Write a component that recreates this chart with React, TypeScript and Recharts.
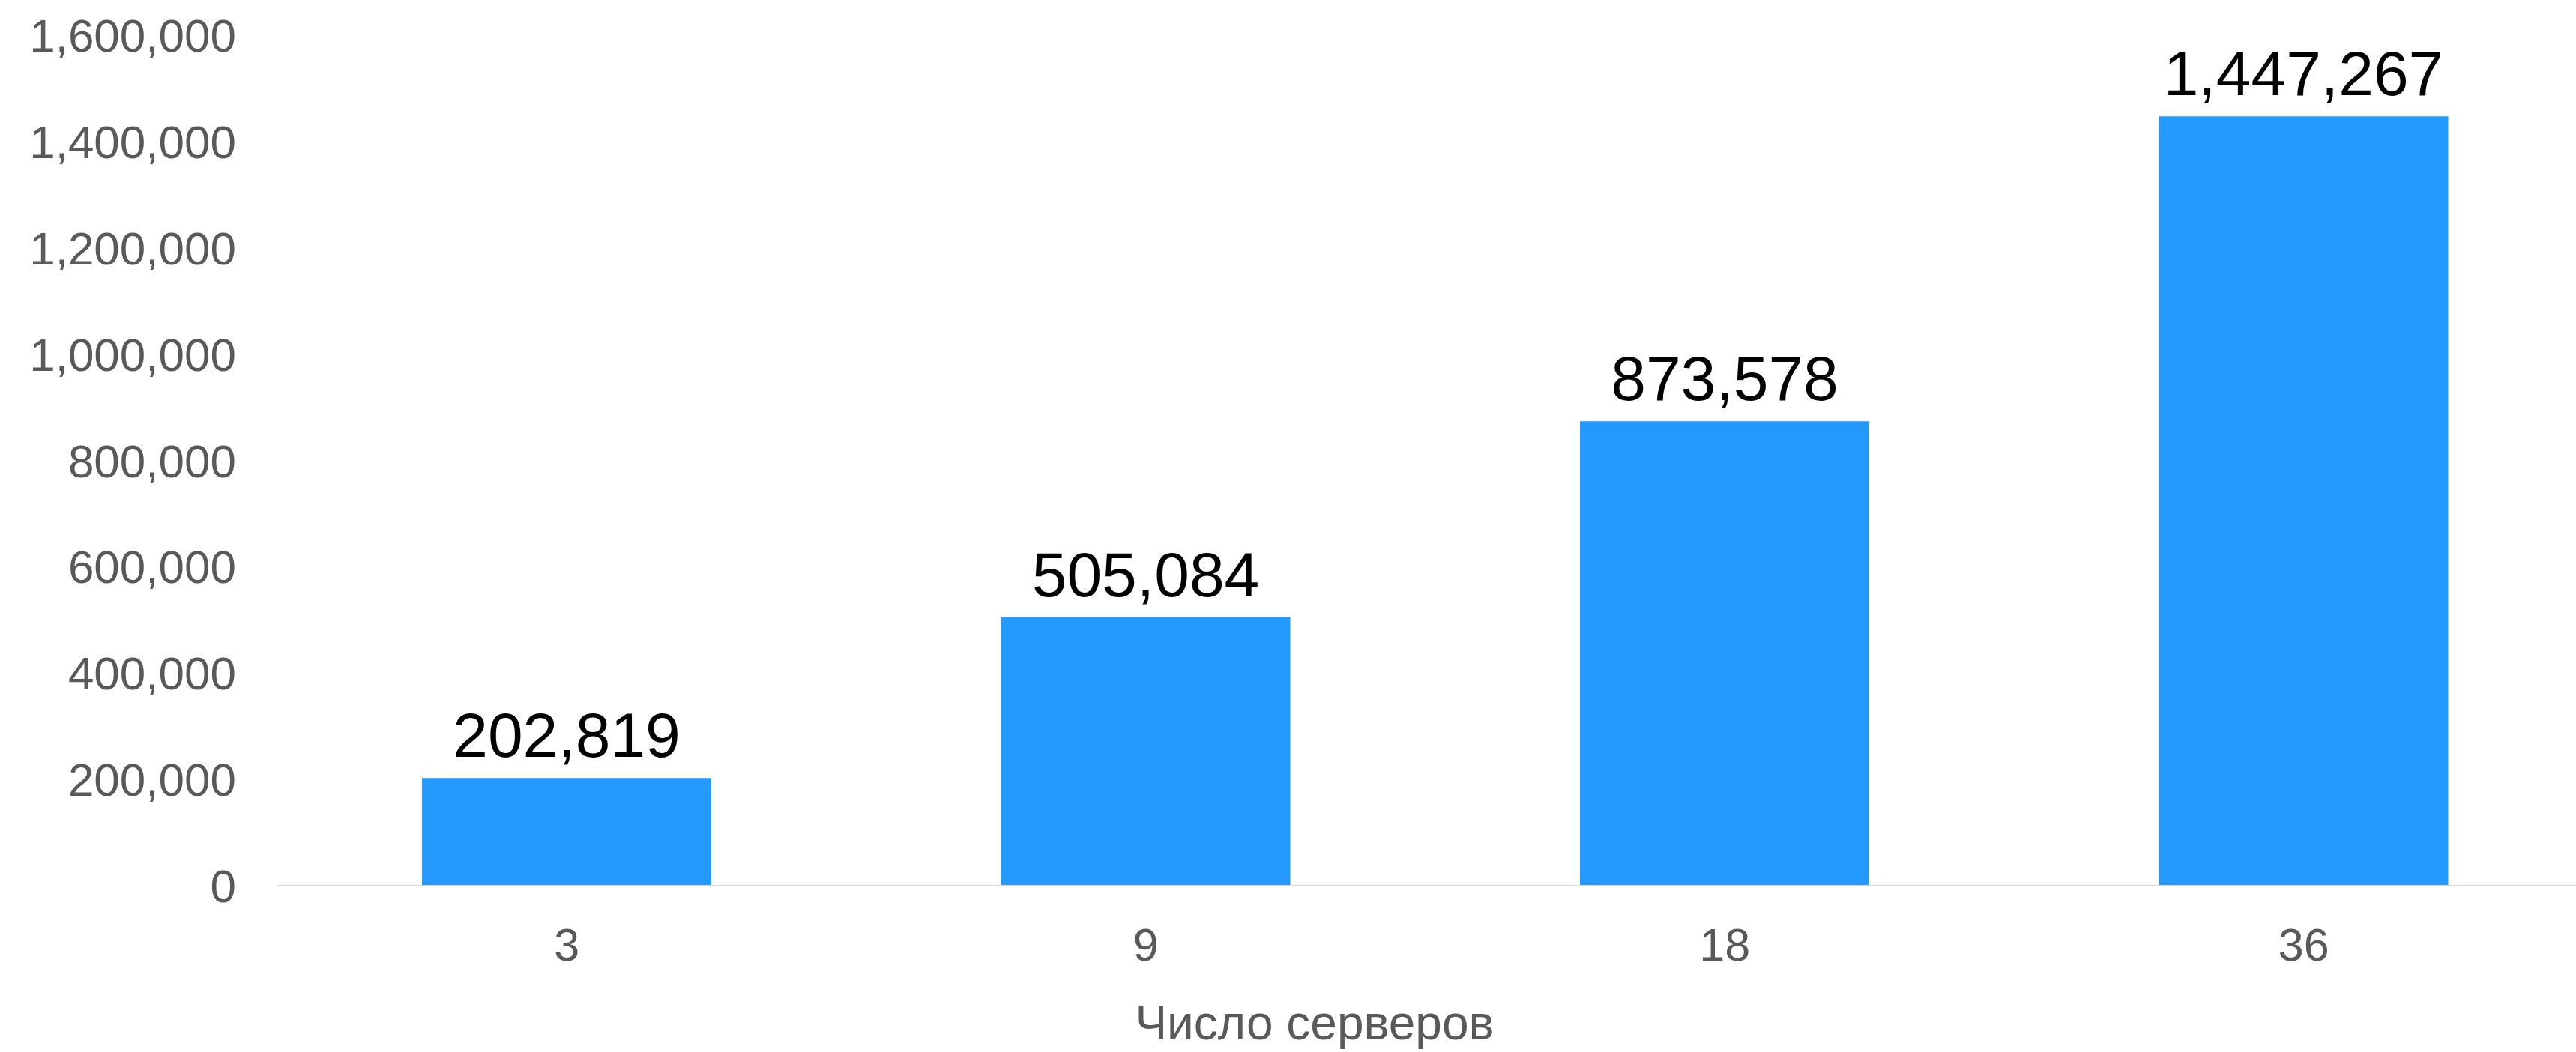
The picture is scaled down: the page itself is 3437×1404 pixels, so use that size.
import React from "react";
import {
  BarChart,
  Bar,
  XAxis,
  YAxis,
  LabelList,
  Label,
} from "recharts";

interface Row {
  servers: string;
  value: number;
}

const servers: string[] = ["3", "9", "18", "36"];
const values: number[] = [202819, 505084, 873578, 1447267];
const yTicks: number[] = [0, 200000, 400000, 600000, 800000, 1000000, 1200000, 1400000, 1600000];

const data: Row[] = servers.map((s, i) => ({ servers: s, value: values[i] }));

const FONT = '"Liberation Sans", Arial, sans-serif';
const fmt = (v: number) => v.toLocaleString("en-US");

const App: React.FC = () => (
  <div
    style={{
      position: "absolute",
      left: 0,
      top: 0,
      width: 3437,
      height: 1404,
      overflow: "hidden",
      background: "#fff",
      fontFamily: FONT,
    }}
  >
    <BarChart
      width={3460}
      height={1404}
      data={data}
      margin={{ top: 47, right: 0, left: 0, bottom: 0 }}
      barSize={386}
    >
      <XAxis
        dataKey="servers"
        height={222}
        tickLine={false}
        axisLine={{ stroke: "#d9d9d9", strokeWidth: 2 }}
        tickMargin={51}
        tick={{ fill: "#595959", fontSize: 61, fontFamily: FONT }}
      >
        {/* pulled up a few px so the descenders stay inside the page */}
        <Label
          value="Число серверов"
          position="insideBottom"
          offset={17}
          dx={-161}
          fill="#595959"
          fontSize={64}
          fontFamily={FONT}
        />
      </XAxis>
      <YAxis
        width={370}
        domain={[0, 1600000]}
        ticks={yTicks}
        interval={0}
        tickLine={false}
        axisLine={false}
        tickMargin={49}
        tickFormatter={fmt}
        tick={{ fill: "#595959", fontSize: 62, fontFamily: FONT }}
      />
      <Bar dataKey="value" fill="#2499FF" isAnimationActive={false}>
        <LabelList
          dataKey="value"
          position="top"
          offset={28}
          formatter={(v: any) => fmt(Number(v))}
          fill="#000"
          fontSize={84}
          fontFamily={FONT}
        />
      </Bar>
    </BarChart>
  </div>
);

export default App;
